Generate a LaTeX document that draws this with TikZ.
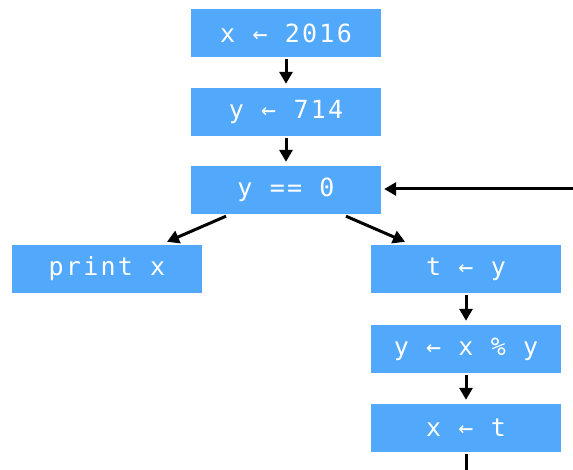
\documentclass[tikz,border=0pt]{standalone}
\usepackage{fontspec}
\setmonofont[LetterSpace=9]{DejaVu Sans Mono}
\usetikzlibrary{arrows.meta}
\definecolor{boxblue}{RGB}{82,168,250}
\begin{document}
\begin{tikzpicture}[x=1pt,y=-1pt,
  blk/.style={fill=boxblue,draw=none,minimum width=190pt,minimum height=48pt,inner sep=0pt,
    text=white,font=\ttfamily\fontsize{25}{28}\selectfont},
  arr/.style={line width=3pt,-{Triangle[length=12pt,width=13pt]}},
  ln/.style={line width=3pt}]
\useasboundingbox (0,0) rectangle (573,470);
\node[blk] (a) at (286,33) {x ← 2016};
\node[blk] (b) at (286,112) {y ← 714};
\node[blk] (c) at (286,190) {y == 0};
\node[blk] (p) at (107,269) {print x};
\node[blk] (t) at (466,269) {t ← y};
\node[blk] (y) at (466,349) {y ← x \% y};
\node[blk] (x) at (466,428) {x ← t};
\coordinate (loopin) at (573,189);
\coordinate (loopout) at (466,470);
\draw[arr] ([yshift=-2pt]a.south) -- ([yshift=4pt]b.north);
\draw[arr] ([yshift=-2pt]b.south) -- ([yshift=4pt]c.north);
\draw[arr] ([xshift=-60pt,yshift=-2pt]c.south) -- ([xshift=60pt,yshift=3pt]p.north);
\draw[arr] ([xshift=60pt,yshift=-2pt]c.south) -- ([xshift=-61pt,yshift=3pt]t.north);
\draw[arr] ([yshift=-2pt]t.south) -- ([yshift=4pt]y.north);
\draw[arr] ([yshift=-2pt]y.south) -- ([yshift=4pt]x.north);
\draw[ln] ([yshift=-2pt]x.south) -- (loopout);
\draw[arr] (loopin) -- ([xshift=3pt]c.east |- loopin);
\end{tikzpicture}
\end{document}
